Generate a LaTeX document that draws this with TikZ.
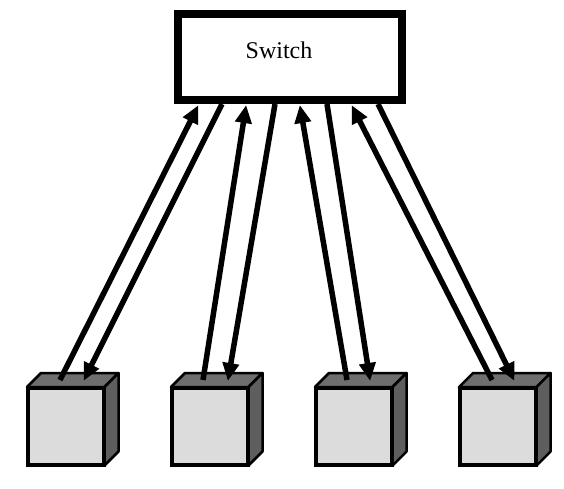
\documentclass[tikz,border=0pt]{standalone}
\usepackage{fontspec}
\setmainfont{Liberation Serif}
\usetikzlibrary{arrows.meta,calc}
\definecolor{frontgray}{HTML}{DCDCDC}
\definecolor{topgray}{HTML}{6E6E6E}
\definecolor{sidegray}{HTML}{5E5E5E}
\tikzset{
  switchbox/.style={draw=black, line width=8pt, fill=white, minimum width=224.5pt, minimum height=86pt, inner sep=0pt},
  cubefront/.style={draw=black, line width=2.5pt, fill=frontgray, minimum width=75pt, minimum height=76pt, inner sep=0pt},
  cubetop/.style={draw=black, line width=2.5pt, fill=topgray, line join=round},
  cubeside/.style={draw=black, line width=2.5pt, fill=sidegray, line join=round},
  link/.style={line width=5.5pt, -{Triangle[length=18pt,width=16pt]}, shorten >=-1pt}
}
\begin{document}
\begin{tikzpicture}[x=1pt,y=-1pt]
\useasboundingbox (0,0) rectangle (564,488);
\fill[white] (0,0) rectangle (564,488);

% switch
\node[switchbox] (sw) at (290,57) {};
\node[font=\fontsize{24}{28}\selectfont, inner sep=0pt] (swlabel) at (279,50) {Switch};

% cubes
\foreach \i/\x in {1/27,2/171,3/315,4/459}{
  \node[cubefront, anchor=north west] (c\i) at (\x,387) {};
  \draw[cubetop] (c\i.north west) -- ++(14,-14) -- ($(c\i.north east)+(14,-14)$) -- (c\i.north east) -- cycle;
  \draw[cubeside] (c\i.north east) -- ++(14,-14) -- ($(c\i.south east)+(14,-14)$) -- (c\i.south east) -- cycle;
  \draw[black, line width=2.5pt] (c\i.north west) rectangle (c\i.south east);
}

% link end points
\coordinate (u1a) at (60,380);  \coordinate (u1b) at (198,106);
\coordinate (d1a) at (222,104); \coordinate (d1b) at (84,380);
\coordinate (u2a) at (203,380); \coordinate (u2b) at (246,106);
\coordinate (d2a) at (275,104); \coordinate (d2b) at (228,380);
\coordinate (u3a) at (347,380); \coordinate (u3b) at (300,106);
\coordinate (d3a) at (327,104); \coordinate (d3b) at (370,380);
\coordinate (u4a) at (492,380); \coordinate (u4b) at (352,106);
\coordinate (d4a) at (378,104); \coordinate (d4b) at (514,380);

\foreach \i in {1,2,3,4}{
  \draw[link] (u\i a) -- (u\i b);
  \draw[link] (d\i a) -- (d\i b);
}
\end{tikzpicture}
\end{document}
